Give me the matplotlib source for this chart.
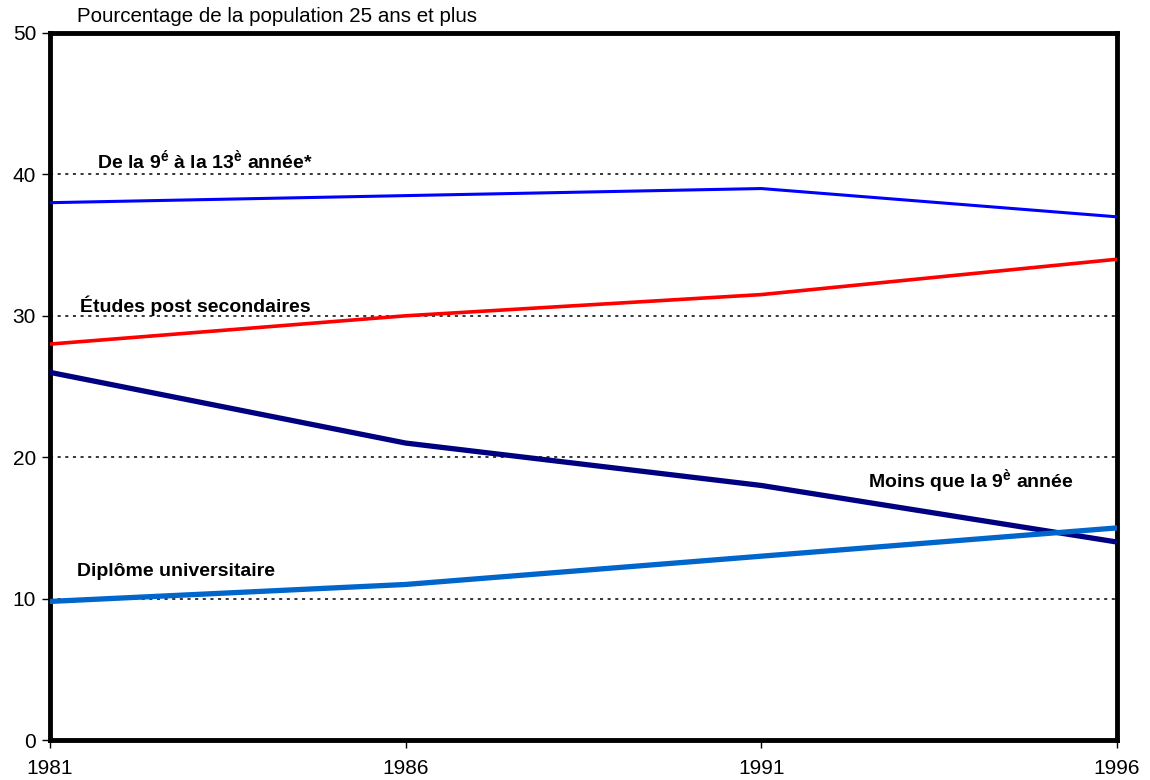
import matplotlib
matplotlib.use("Agg")
import matplotlib.pyplot as plt

plt.rcParams['font.family'] = ['Liberation Sans', 'DejaVu Sans']
plt.rcParams['mathtext.fontset'] = 'custom'
plt.rcParams['mathtext.rm'] = 'Liberation Sans'
plt.rcParams['mathtext.bf'] = 'Liberation Sans:bold'

# Niveau de scolarité, % de la population 25 ans et plus
years = [1981, 1986, 1991, 1996]
neuf_treize = [38.0, 38.5, 39.0, 37.0]
post_sec = [28.0, 30.0, 31.5, 34.0]
moins_neuf = [26.0, 21.0, 18.0, 14.0]
diplome_univ = [9.8, 11.0, 13.0, 15.0]

y_ticks = [0, 10, 20, 30, 40, 50]
grid_levels = [10, 20, 30, 40]

fig = plt.figure(figsize=(11.5, 7.8), dpi=100)
ax = fig.add_axes([50 / 1150, 1 - 740 / 780, 1067 / 1150, 707 / 780])

for g in grid_levels:
    ax.axhline(g, color='black', linestyle=(0, (2, 3)), linewidth=1.1, zorder=1)

ax.plot(years, neuf_treize, color='#0000ff', linewidth=2.2, zorder=3)
ax.plot(years, post_sec, color='#ff0000', linewidth=2.6, zorder=3)
ax.plot(years, moins_neuf, color='#000080', linewidth=3.8, zorder=3)
ax.plot(years, diplome_univ, color='#0066cc', linewidth=3.8, zorder=3)

bold = dict(fontsize=14, fontweight='bold', color='black')
ax.text(1981.66, 40.4, r'De la 9$^{\mathbf{é}}$ à la 13$^{\mathbf{è}}$ année*', **bold)
ax.text(1981.42, 30.3, 'Études post secondaires', **bold)
ax.text(1992.5, 17.8, r'Moins que la 9$^{\mathbf{è}}$ année', **bold)
ax.text(1981.38, 11.6, 'Diplôme universitaire', **bold)

ax.set_xlim(1981, 1996)
ax.set_ylim(0, 50)
ax.set_xticks(years)
ax.set_yticks(y_ticks)
ax.tick_params(axis='both', labelsize=15, direction='out', length=6, width=1, color='black')
ax.tick_params(axis='x', pad=8)
ax.tick_params(axis='y', pad=4)

for side in ax.spines.values():
    side.set_linewidth(3.5)
    side.set_color('black')

ax.text(77 / 1150, 1 - 17 / 780, 'Pourcentage de la population 25 ans et plus',
        transform=fig.transFigure, fontsize=14.8, va='center', ha='left')

fig.savefig('out.png', dpi=100)
